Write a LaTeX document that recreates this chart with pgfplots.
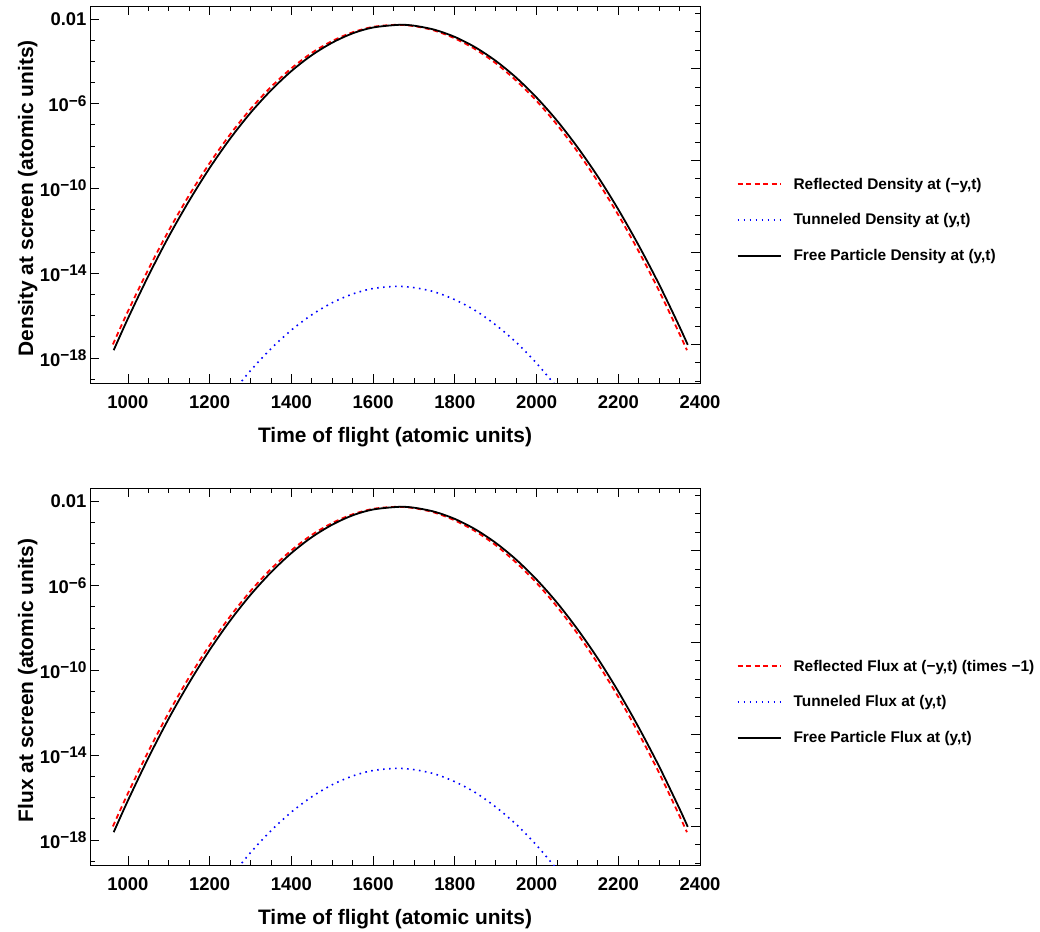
\documentclass[border=0pt]{standalone}
\usepackage{fontspec}
\setmainfont{Liberation Sans}
\usepackage{pgfplots}
\pgfplotsset{compat=1.18}
\usepackage{pgfplotstable}

\newcommand{\sups}[1]{\raisebox{0.6ex}{\fontsize{15.5}{15.5}\selectfont #1}}

% Free particle (black)
\pgfplotstableread{
t y
965 2.34e-18
1000 7.41e-17
1050 7.59e-15
1100 5.50e-13
1150 2.69e-11
1200 9.33e-10
1250 2.24e-8
1300 3.72e-7
1350 4.27e-6
1400 3.47e-5
1450 1.95e-4
1500 7.59e-4
1550 2.09e-3
1600 3.94e-3
1663 5.25e-3
1700 4.79e-3
1750 3.09e-3
1800 1.41e-3
1850 4.57e-4
1900 1.05e-4
1950 1.70e-5
2000 1.95e-6
2050 1.58e-7
2100 8.91e-9
2150 3.63e-10
2200 1.02e-11
2250 2.04e-13
2300 2.95e-15
2350 2.95e-17
2370 4.17e-18
}\freedata

% Reflected (red)
\pgfplotstableread{
t y
963 4.37e-18
1000 1.62e-16
1050 1.55e-14
1100 1.05e-12
1150 4.90e-11
1200 1.58e-9
1250 3.55e-8
1300 5.62e-7
1350 6.17e-6
1400 4.68e-5
1450 2.51e-4
1500 9.12e-4
1550 2.34e-3
1600 4.22e-3
1655 5.25e-3
1700 4.57e-3
1750 2.82e-3
1800 1.20e-3
1850 3.72e-4
1900 8.13e-5
1950 1.23e-5
2000 1.35e-6
2050 1.02e-7
2100 5.50e-9
2150 2.09e-10
2200 5.62e-12
2250 1.07e-13
2300 1.45e-15
2350 1.35e-17
2368 2.34e-18
}\refldata

% Tunneled (blue)
\pgfplotstableread{
t y
1260 2.95e-20
1300 2.57e-19
1350 2.75e-18
1400 2.09e-17
1450 1.10e-16
1500 4.07e-16
1550 1.05e-15
1600 1.91e-15
1658 2.40e-15
1700 2.09e-15
1750 1.32e-15
1800 5.62e-16
1850 1.74e-16
1900 3.63e-17
1950 5.50e-18
2000 5.62e-19
2050 4.17e-20
}\tunndata

\tikzset{
  redline/.style={red, line width=1.8bp, dash pattern=on 5bp off 3.5bp},
  blueline/.style={blue, line width=1.6bp, dash pattern=on 1.6bp off 4.4bp},
  blackline/.style={black, line width=1.8bp},
}

\begin{document}
\begin{tikzpicture}
\useasboundingbox (0,0) rectangle (1040bp,932bp);

% ---------- top panel ----------
\begin{axis}[at={(90bp,549bp)}, anchor=south west,
    scale only axis, width=610bp, height=377bp,
    ymode=log, xmin=907, xmax=2400, ymin=6.61e-20, ymax=4.07e-2,
    xtick={1000,1200,1400,1600,1800,2000,2200,2400},
    minor x tick num=3,
    ytick={1e-18,1e-14,1e-10,1e-6,1e-2},
    yticklabels={10\sups{−18},10\sups{−14},10\sups{−10},10\sups{−6},0.01},
    minor ytick={1e-19,1e-17,1e-16,1e-15,1e-13,1e-12,1e-11,1e-9,1e-8,1e-7,1e-5,1e-4,1e-3},
    ytick pos=left, tick align=inside,
    major tick length=9bp, minor tick length=5bp,
    tick style={black, line width=0.8bp},
    axis line style={line width=0.9bp},
    tick label style={font=\fontsize{18.5}{20}\selectfont\bfseries},
    xticklabel style={yshift=-9bp},
    /pgf/number format/assume math mode=true,
    /pgf/number format/1000 sep={},
    label style={font=\fontsize{21}{24}\selectfont\bfseries},
    xlabel style={at={(axis description cs:0.5,-0.143)}, anchor=center},
    ylabel style={at={(axis description cs:-0.102,0.49)}, anchor=center},
    legend style={draw=none, fill=none, font=\fontsize{15.5}{18}\selectfont\bfseries,
      at={(1.055,0.555)}, anchor=north west, row sep=19bp,
      /tikz/every odd column/.append style={column sep=10bp}},
    legend cell align=left,
    legend image code/.code={\draw[#1] (0bp,0bp) -- (43bp,0bp);},
    xlabel={Time of flight (atomic units)},
    ylabel={Density at screen (atomic units)}]
\addplot[redline, smooth] table[x=t,y=y]{\refldata};
\addlegendentry{Reflected Density at (−y,t)}
\addplot[blueline, smooth] table[x=t,y=y]{\tunndata};
\addlegendentry{Tunneled Density at (y,t)}
\addplot[blackline, smooth] table[x=t,y=y]{\freedata};
\addlegendentry{Free Particle Density at (y,t)}
\end{axis}
\begin{axis}[at={(90bp,549bp)}, anchor=south west,
    scale only axis, width=610bp, height=377bp,
    ymode=log, xmin=0, xmax=1, ymin=7.94e-23, ymax=2.51e-2,
    axis x line=none, axis y line*=right,
    ytick={1e-20,1e-15,1e-10,1e-5},
    minor ytick={1e-22,1e-21,1e-19,1e-18,1e-17,1e-16,1e-14,1e-13,1e-12,1e-11,1e-9,1e-8,1e-7,1e-6,1e-4,1e-3,1e-2},
    yticklabels={}, tick align=inside,
    major tick length=9bp, minor tick length=5bp,
    tick style={black, line width=0.8bp},
    axis line style={line width=0.9bp}]
\addplot[draw=none] coordinates {(0.5,1e-10)};
\end{axis}

% ---------- bottom panel ----------
\begin{axis}[at={(90bp,67bp)}, anchor=south west,
    scale only axis, width=610bp, height=377bp,
    ymode=log, xmin=907, xmax=2400, ymin=6.61e-20, ymax=4.07e-2,
    xtick={1000,1200,1400,1600,1800,2000,2200,2400},
    minor x tick num=3,
    ytick={1e-18,1e-14,1e-10,1e-6,1e-2},
    yticklabels={10\sups{−18},10\sups{−14},10\sups{−10},10\sups{−6},0.01},
    minor ytick={1e-19,1e-17,1e-16,1e-15,1e-13,1e-12,1e-11,1e-9,1e-8,1e-7,1e-5,1e-4,1e-3},
    ytick pos=left, tick align=inside,
    major tick length=9bp, minor tick length=5bp,
    tick style={black, line width=0.8bp},
    axis line style={line width=0.9bp},
    tick label style={font=\fontsize{18.5}{20}\selectfont\bfseries},
    xticklabel style={yshift=-9bp},
    /pgf/number format/assume math mode=true,
    /pgf/number format/1000 sep={},
    label style={font=\fontsize{21}{24}\selectfont\bfseries},
    xlabel style={at={(axis description cs:0.5,-0.143)}, anchor=center},
    ylabel style={at={(axis description cs:-0.102,0.49)}, anchor=center},
    legend style={draw=none, fill=none, font=\fontsize{15.5}{18}\selectfont\bfseries,
      at={(1.055,0.555)}, anchor=north west, row sep=19bp,
      /tikz/every odd column/.append style={column sep=10bp}},
    legend cell align=left,
    legend image code/.code={\draw[#1] (0bp,0bp) -- (43bp,0bp);},
    xlabel={Time of flight (atomic units)},
    ylabel={Flux at screen (atomic units)}]
\addplot[redline, smooth] table[x=t,y=y]{\refldata};
\addlegendentry{Reflected Flux at (−y,t) (times −1)}
\addplot[blueline, smooth] table[x=t,y=y]{\tunndata};
\addlegendentry{Tunneled Flux at (y,t)}
\addplot[blackline, smooth] table[x=t,y=y]{\freedata};
\addlegendentry{Free Particle Flux at (y,t)}
\end{axis}
\begin{axis}[at={(90bp,67bp)}, anchor=south west,
    scale only axis, width=610bp, height=377bp,
    ymode=log, xmin=0, xmax=1, ymin=7.94e-23, ymax=2.51e-2,
    axis x line=none, axis y line*=right,
    ytick={1e-20,1e-15,1e-10,1e-5},
    minor ytick={1e-22,1e-21,1e-19,1e-18,1e-17,1e-16,1e-14,1e-13,1e-12,1e-11,1e-9,1e-8,1e-7,1e-6,1e-4,1e-3,1e-2},
    yticklabels={}, tick align=inside,
    major tick length=9bp, minor tick length=5bp,
    tick style={black, line width=0.8bp},
    axis line style={line width=0.9bp}]
\addplot[draw=none] coordinates {(0.5,1e-10)};
\end{axis}
\end{tikzpicture}
\end{document}
